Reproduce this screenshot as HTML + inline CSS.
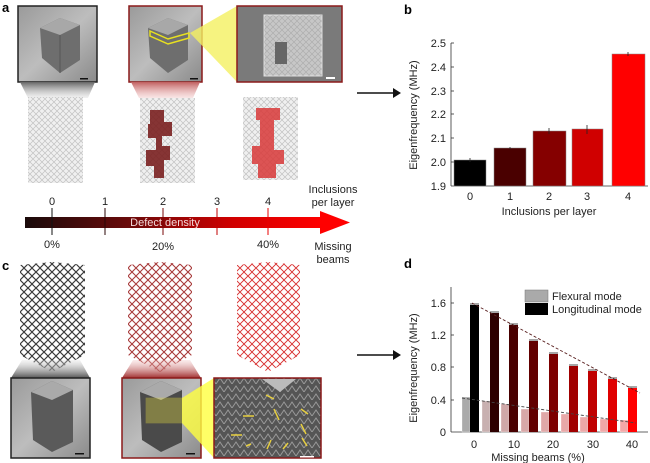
<!DOCTYPE html>
<html><head><meta charset="utf-8"><style>
html,body{margin:0;padding:0;background:#fff;}
svg{display:block;font-family:"Liberation Sans",Arial,sans-serif;}
</style></head><body>
<svg width="650" height="463" viewBox="0 0 650 463" xmlns="http://www.w3.org/2000/svg">
<defs>
 <linearGradient id="sem" x1="0" y1="0" x2="1" y2="1">
  <stop offset="0" stop-color="#9a9a9a"/><stop offset="0.5" stop-color="#bdbdbd"/><stop offset="1" stop-color="#8a8a8a"/>
 </linearGradient>
 <linearGradient id="bar" x1="0" x2="1">
  <stop offset="0" stop-color="#1a0a0a"/><stop offset="0.35" stop-color="#6a0a0a"/><stop offset="0.7" stop-color="#d00000"/><stop offset="1" stop-color="#ff0000"/>
 </linearGradient>
 <linearGradient id="fadeG" x1="0" y1="0" x2="0" y2="1">
  <stop offset="0" stop-color="#666"/><stop offset="1" stop-color="#ddd" stop-opacity="0.4"/>
 </linearGradient>
 <linearGradient id="fadeR" x1="0" y1="0" x2="0" y2="1">
  <stop offset="0" stop-color="#c06060"/><stop offset="1" stop-color="#f0c0c0" stop-opacity="0.4"/>
 </linearGradient>
 <linearGradient id="fadeG2" x1="0" y1="1" x2="0" y2="0">
  <stop offset="0" stop-color="#555"/><stop offset="1" stop-color="#ddd" stop-opacity="0.3"/>
 </linearGradient>
 <linearGradient id="fadeR2" x1="0" y1="1" x2="0" y2="0">
  <stop offset="0" stop-color="#a03030"/><stop offset="1" stop-color="#f0c0c0" stop-opacity="0.3"/>
 </linearGradient>
 <pattern id="latG" width="6" height="6" patternUnits="userSpaceOnUse">
  <rect width="6" height="6" fill="#eeeeee"/><path d="M0 0L6 6M6 0L0 6" stroke="#bbb" stroke-width="0.7"/>
 </pattern>
 <pattern id="latK" width="8" height="8" patternUnits="userSpaceOnUse">
  <rect width="8" height="8" fill="#fff"/><path d="M0 4L4 0L8 4L4 8Z" fill="none" stroke="#3a3a3a" stroke-width="1.2"/>
 </pattern>
 <pattern id="latR" width="8" height="8" patternUnits="userSpaceOnUse">
  <rect width="8" height="8" fill="#fff"/><path d="M0 4L4 0L8 4L4 8Z" fill="none" stroke="#a83a3a" stroke-width="1.1"/>
 </pattern>
 <pattern id="latRR" width="8" height="8" patternUnits="userSpaceOnUse">
  <rect width="8" height="8" fill="#fff"/><path d="M0 4L4 0L8 4L4 8Z" fill="none" stroke="#d83030" stroke-width="0.9"/>
 </pattern>
 <pattern id="semL" width="8" height="8" patternUnits="userSpaceOnUse">
  <rect width="8" height="8" fill="#555"/><path d="M0 8L4 2L8 8" fill="none" stroke="#999" stroke-width="1"/>
 </pattern>
</defs>

<text x="2" y="12" font-size="13" font-weight="bold">a</text>
<rect x="18" y="6" width="79" height="76" fill="url(#sem)" stroke="#222" stroke-width="1.5"/>
<path d="M40 28L60 18L80 25L80 60L60 73L42 58Z" fill="#6e6e6e"/>
<path d="M40 28L60 18L80 25L60 35Z" fill="#a8a8a8"/>
<path d="M60 35L60 73" stroke="#555"/>
<rect x="80" y="78" width="8" height="1.5" fill="#111"/>
<path d="M20 82L95 82L88 98L28 98Z" fill="url(#fadeG)"/>
<rect x="28" y="97" width="55" height="86" fill="url(#latG)" opacity="0.9"/>
<rect x="129" y="6" width="73" height="76" fill="url(#sem)" stroke="#8b1a1a" stroke-width="1.5"/>
<path d="M148 28L168 18L188 25L188 60L168 73L150 58Z" fill="#6e6e6e"/>
<path d="M148 28L168 18L188 25L168 35Z" fill="#a8a8a8"/>
<path d="M150 31L168 39L189 33L189 38L168 44L150 36Z" fill="none" stroke="#e8e020" stroke-width="1.5"/>
<rect x="190" y="78" width="8" height="1.5" fill="#111"/>
<path d="M190 33L237 6L237 82Z" fill="#f4f060" opacity="0.8"/>
<path d="M131 82L200 82L193 98L139 98Z" fill="url(#fadeR)"/>
<rect x="140" y="98" width="55" height="85" fill="url(#latG)" opacity="0.9"/>
<path d="M150 110h14v12h8v14h-10v10h8v14h-6v18h-10v-12h-8v-16h10v-12h-8v-14h2z" fill="#7a2020" opacity="0.9"/>
<rect x="237" y="6" width="105" height="76" fill="#7a7a7a" stroke="#8b1a1a" stroke-width="1.5"/>
<rect x="264" y="15" width="58" height="61" fill="#a0a0a0" stroke="#ddd"/>
<rect x="264" y="15" width="58" height="61" fill="url(#latG)" opacity="0.5"/>
<rect x="275" y="42" width="12" height="22" fill="#666"/>
<rect x="326" y="77" width="9" height="2" fill="#fff"/>
<rect x="243" y="97" width="55" height="83" fill="url(#latG)" opacity="0.9"/>
<path d="M256 108h24v12h-6v30h10v14h-8v14h-18v-14h-6v-18h8v-26h-4z" fill="#d83838" opacity="0.85"/>
<line x1="357" y1="93" x2="398" y2="93" stroke="#111" stroke-width="1.5"/>
<path d="M401 93L393 88L393 98Z" fill="#111"/>

<rect x="25" y="217" width="297" height="11" fill="url(#bar)"/>
<path d="M320 211L350 222.5L320 234Z" fill="#ff0000"/>
<line x1="52" y1="208" x2="52" y2="235" stroke="#111"/>
<line x1="105" y1="208" x2="105" y2="235" stroke="#2a0505"/>
<line x1="163" y1="208" x2="163" y2="235" stroke="#7a0808"/>
<line x1="217" y1="208" x2="217" y2="235" stroke="#c00000"/>
<line x1="268" y1="208" x2="268" y2="235" stroke="#e80000"/>
<g font-size="11" text-anchor="middle" fill="#222">
 <text x="52" y="205">0</text><text x="105" y="205">1</text><text x="163" y="205">2</text><text x="217" y="205">3</text><text x="268" y="205">4</text>
 <text x="52" y="248">0%</text><text x="163" y="250">20%</text><text x="268" y="248">40%</text>
 <text x="165" y="226" fill="#f4dada">Defect density</text>
 <text x="333" y="193">Inclusions</text><text x="333" y="206">per layer</text>
 <text x="333" y="250">Missing</text><text x="333" y="263">beams</text>
</g>

<text x="2" y="270" font-size="13" font-weight="bold">c</text>
<path d="M20 265L52 262L85 265L85 355L52 372L20 355Z" fill="url(#latK)"/>
<path d="M128 265L160 262L192 265L192 355L160 372L128 355Z" fill="url(#latR)"/>
<path d="M237 265L268 262L300 265L300 355L268 372L237 355Z" fill="url(#latRR)"/>
<path d="M22 360L80 360L90 378L11 378Z" fill="url(#fadeG2)"/>
<path d="M133 360L190 360L201 378L122 378Z" fill="url(#fadeR2)"/>
<rect x="11" y="378" width="79" height="80" fill="url(#sem)" stroke="#222" stroke-width="1.5"/>
<path d="M31 392L52 381L73 390L73 442L52 452L33 440Z" fill="#5a5a5a"/>
<path d="M31 392L52 381L73 390L52 400Z" fill="#aaa"/>
<rect x="75" y="453" width="9" height="1.5" fill="#111"/>
<rect x="122" y="378" width="79" height="80" fill="url(#sem)" stroke="#8b1a1a" stroke-width="1.5"/>
<path d="M140 392L161 381L182 390L182 442L161 452L142 440Z" fill="#4a4a4a"/>
<path d="M140 392L161 381L182 390L161 400Z" fill="#aaa"/>
<rect x="146" y="398" width="36" height="25" fill="#e8e040" opacity="0.35" stroke="#e8e040" stroke-width="0.7"/>
<rect x="186" y="453" width="9" height="1.5" fill="#111"/>
<path d="M182 398L214 378L214 458L182 423Z" fill="#ffff40" opacity="0.8"/>
<rect x="214" y="378" width="107" height="80" fill="url(#semL)" stroke="#8b1a1a" stroke-width="1.5"/>
<path d="M262 379L296 379L280 392Z" fill="#bbb"/>
<g stroke="#e8d040" stroke-width="1.5">
 <line x1="243" y1="416" x2="254" y2="416"/><line x1="231" y1="435" x2="242" y2="435"/>
 <line x1="266" y1="395" x2="274" y2="399"/><line x1="274" y1="409" x2="279" y2="420"/>
 <line x1="301" y1="409" x2="308" y2="414"/><line x1="301" y1="424" x2="306" y2="434"/>
 <line x1="267" y1="449" x2="271" y2="440"/><line x1="283" y1="449" x2="288" y2="443"/>
 <line x1="302" y1="438" x2="307" y2="446"/><line x1="246" y1="446" x2="251" y2="444"/>
</g>
<rect x="300" y="456" width="14" height="1.5" fill="#fff"/>
<line x1="357" y1="355" x2="398" y2="355" stroke="#111" stroke-width="1.5"/>
<path d="M401 355L393 350L393 360Z" fill="#111"/>

<text x="404" y="14" font-size="13" font-weight="bold">b</text>
<g stroke="#333" stroke-width="0.8">
 <line x1="451" y1="43" x2="451" y2="186"/>
 <line x1="451" y1="186" x2="648" y2="186"/>
 <line x1="451" y1="43" x2="454" y2="43"/><line x1="451" y1="67" x2="454" y2="67"/><line x1="451" y1="91" x2="454" y2="91"/>
 <line x1="451" y1="114" x2="454" y2="114"/><line x1="451" y1="138" x2="454" y2="138"/><line x1="451" y1="162" x2="454" y2="162"/>
</g>
<g font-size="11" fill="#222" text-anchor="end">
 <text x="446" y="47">2.5</text><text x="446" y="71">2.4</text><text x="446" y="95">2.3</text>
 <text x="446" y="118">2.2</text><text x="446" y="142">2.1</text><text x="446" y="166">2.0</text><text x="446" y="190">1.9</text>
</g>
<rect x="454" y="160" width="32" height="26" fill="#000" stroke="#888" stroke-width="0.5"/>
<rect x="494" y="148" width="32" height="38" fill="#4a0000" stroke="#888" stroke-width="0.5"/>
<rect x="533" y="131" width="33" height="55" fill="#850000" stroke="#888" stroke-width="0.5"/>
<rect x="572" y="129" width="31" height="57" fill="#d00000" stroke="#888" stroke-width="0.5"/>
<rect x="612" y="54" width="33" height="132" fill="#ff0000" stroke="#888" stroke-width="0.5"/>
<g stroke="#222" stroke-width="0.8">
 <line x1="470" y1="158" x2="470" y2="162"/><line x1="510" y1="147" x2="510" y2="149"/>
 <line x1="549" y1="128" x2="549" y2="134"/><line x1="587" y1="125" x2="587" y2="134"/><line x1="628" y1="52" x2="628" y2="56"/>
</g>
<g font-size="11" fill="#222" text-anchor="middle">
 <text x="470" y="200">0</text><text x="510" y="200">1</text><text x="549" y="200">2</text><text x="587" y="200">3</text><text x="628" y="200">4</text>
 <text x="549" y="215">Inclusions per layer</text>
 <text transform="translate(417,115) rotate(-90)">Eigenfrequency (MHz)</text>
</g>

<text x="404" y="268" font-size="13" font-weight="bold">d</text>
<g stroke="#333" stroke-width="0.8">
 <line x1="451" y1="287" x2="451" y2="432"/>
 <line x1="451" y1="432" x2="648" y2="432"/>
 <line x1="451" y1="303" x2="454" y2="303"/><line x1="451" y1="335" x2="454" y2="335"/>
 <line x1="451" y1="367" x2="454" y2="367"/><line x1="451" y1="400" x2="454" y2="400"/>
</g>
<g font-size="11" fill="#222" text-anchor="end">
 <text x="446" y="307">1.6</text><text x="446" y="339">1.2</text><text x="446" y="371">0.8</text>
 <text x="446" y="404">0.4</text><text x="446" y="436">0</text>
</g>
<g stroke="#fff" stroke-width="0.3">
<rect x="462" y="397" width="8" height="35" fill="#aaaaaa"/>
<rect x="482" y="401" width="8" height="31" fill="#c8b0b0"/>
<rect x="501" y="404" width="8" height="28" fill="#d0a8a8"/>
<rect x="521" y="409" width="8" height="23" fill="#d8a8a8"/>
<rect x="541" y="412" width="8" height="20" fill="#e0a8a8"/>
<rect x="561" y="414" width="8" height="18" fill="#e8a8a8"/>
<rect x="580" y="417" width="8" height="15" fill="#eca8a8"/>
<rect x="600" y="419" width="8" height="13" fill="#f0a8a8"/>
<rect x="620" y="420" width="8" height="12" fill="#f4a8a8"/>
</g>
<rect x="470" y="305" width="9" height="127" fill="#000"/>
<rect x="490" y="313" width="9" height="119" fill="#2e0000"/>
<rect x="509" y="325" width="9" height="107" fill="#480000"/>
<rect x="529" y="341" width="9" height="91" fill="#620000"/>
<rect x="549" y="354" width="9" height="78" fill="#7c0000"/>
<rect x="569" y="366" width="9" height="66" fill="#a00000"/>
<rect x="588" y="371" width="9" height="61" fill="#c00000"/>
<rect x="608" y="379" width="9" height="53" fill="#e00000"/>
<rect x="628" y="388" width="9" height="44" fill="#ff0000"/>
<g stroke="#222" stroke-width="0.8">
 <line x1="470" y1="304" x2="479" y2="304"/><line x1="490" y1="312" x2="499" y2="312"/>
 <line x1="509" y1="324" x2="518" y2="324"/><line x1="529" y1="340" x2="538" y2="340"/>
 <line x1="549" y1="353" x2="558" y2="353"/><line x1="569" y1="365" x2="578" y2="365"/>
 <line x1="588" y1="370" x2="597" y2="370"/><line x1="608" y1="378" x2="617" y2="378"/>
 <line x1="628" y1="387" x2="637" y2="387"/>
</g>
<line x1="472" y1="303" x2="640" y2="393" stroke="#5a2020" stroke-width="0.9" stroke-dasharray="3,2"/>
<line x1="462" y1="398" x2="636" y2="423" stroke="#444" stroke-width="0.9" stroke-dasharray="3,2"/>
<rect x="525" y="290" width="23" height="12" fill="#aaaaaa" stroke="#777" stroke-width="0.5"/>
<rect x="525" y="303" width="23" height="12" fill="#000"/>
<g font-size="11" fill="#222">
 <text x="552" y="300">Flexural mode</text>
 <text x="552" y="313">Longitudinal mode</text>
</g>
<g font-size="11" fill="#222" text-anchor="middle">
 <text x="474" y="448">0</text><text x="514" y="448">10</text><text x="553" y="448">20</text>
 <text x="593" y="448">30</text><text x="632" y="448">40</text>
 <text x="538" y="461">Missing beams (%)</text>
 <text transform="translate(417,368) rotate(-90)">Eigenfrequency (MHz)</text>
</g>
</svg>
</body></html>
